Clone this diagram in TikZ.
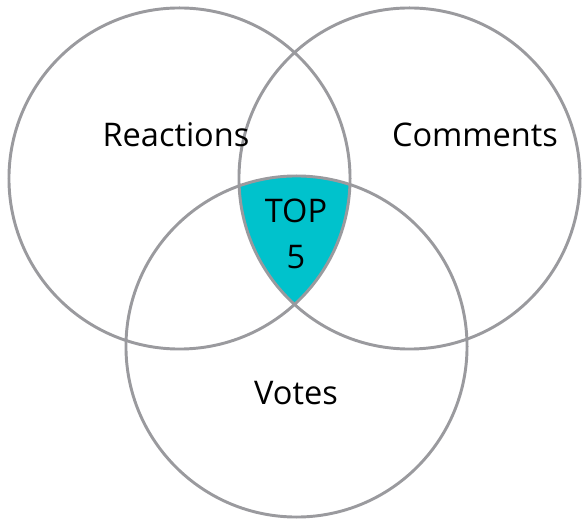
\documentclass[tikz,border=0pt]{standalone}
\usepackage{fontspec}
\setmainfont{Open Sans}
\usepackage{tikz}
\usetikzlibrary{backgrounds}
\definecolor{ringgray}{HTML}{9A9A9E}
\definecolor{topcyan}{HTML}{00C2CC}
\pgfdeclarelayer{background}
\pgfsetlayers{background,main}

\begin{document}
\begin{tikzpicture}[x=0.75pt,y=-0.75pt]
    \fontsize{24.4pt}{34.5pt}\selectfont

    \tikzset{VC/.style={draw=ringgray,line width=2.2pt,circle,inner sep=0mm,minimum size=255.8pt}}
    \tikzset{LB/.style={inner sep=0mm,anchor=base}}
    \def\vr{127.9pt}

    \useasboundingbox (0,0) rectangle (582,520);

    \node (reac) [VC] at (179.5, 178.5) {};
    \node (comm) [VC] at (409.5, 178.5) {};
    \node (vote) [VC] at (296.5, 346.5) {};

    \node (lreac) [LB] at (176, 147) {Reactions};
    \node (lcomm) [LB] at (475, 147) {Comments};
    \node (lvote) [LB] at (296, 404) {Votes};
    \node (top) [inner sep=0mm,align=center] at (296, 234) {TOP\\5};

    \begin{pgfonlayer}{background}
        \begin{scope}
            \clip (reac.center) circle[radius=\vr];
            \clip (comm.center) circle[radius=\vr];
            \fill[topcyan] (vote.center) circle[radius=\vr];
        \end{scope}
    \end{pgfonlayer}
\end{tikzpicture}
\end{document}
